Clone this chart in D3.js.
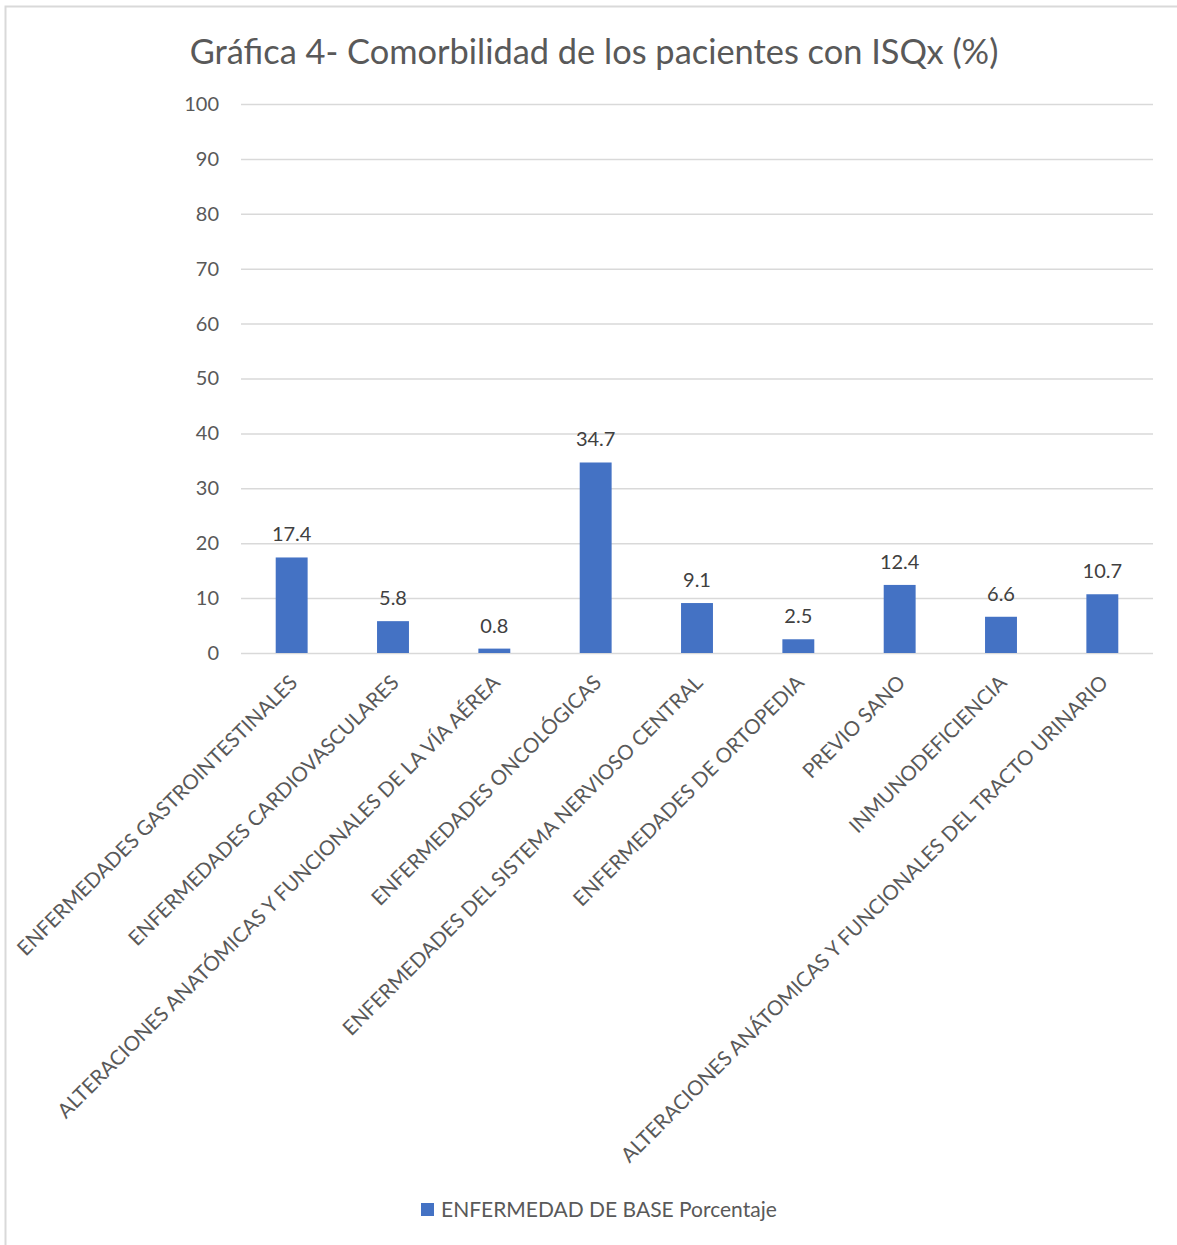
<!DOCTYPE html>
<html>
<head>
<meta charset="utf-8">
<script src="https://cdn.jsdelivr.net/npm/d3@7"></script>
<style>
  body { margin: 0; background: #fff; }
  svg { display: block; font-family: Lato, "Open Sans", sans-serif; }
</style>
</head>
<body>
<script>
// ==== chart data ====
var categories = [
  "ENFERMEDADES GASTROINTESTINALES",
  "ENFERMEDADES CARDIOVASCULARES",
  "ALTERACIONES ANATÓMICAS Y FUNCIONALES DE LA VÍA AÉREA",
  "ENFERMEDADES ONCOLÓGICAS",
  "ENFERMEDADES DEL SISTEMA NERVIOSO CENTRAL",
  "ENFERMEDADES DE ORTOPEDIA",
  "PREVIO SANO",
  "INMUNODEFICIENCIA",
  "ALTERACIONES ANÁTOMICAS Y FUNCIONALES DEL TRACTO URINARIO"
];
var values = [17.4, 5.8, 0.8, 34.7, 9.1, 2.5, 12.4, 6.6, 10.7];
var yTicks = [0, 10, 20, 30, 40, 50, 60, 70, 80, 90, 100];
var title = "Gráfica 4- Comorbilidad de los pacientes con ISQx (%)";
var seriesName = "ENFERMEDAD DE BASE Porcentaje";

var W = 1177, H = 1245;
var textColor = "#595959", gridColor = "#d9d9d9", barColor = "#4472c4";
var plot = { left: 241, right: 1153, top: 104, bottom: 653 };

var svg = d3.select("body").append("svg")
    .attr("width", W)
    .attr("height", H);

// chart border (only top and left edges visible in frame)
svg.append("rect")
    .attr("x", 5.5).attr("y", 6.5)
    .attr("width", W + 10).attr("height", H + 10)
    .attr("fill", "none")
    .attr("stroke", gridColor)
    .attr("stroke-width", 2);

// title
svg.append("text")
    .attr("x", 594).attr("y", 64)
    .attr("text-anchor", "middle")
    .attr("fill", textColor)
    .style("font-size", "34.4px")
    .text(title);

var x = d3.scaleBand()
    .domain(categories)
    .range([plot.left, plot.right])
    .paddingInner(0.685)
    .paddingOuter(0.3425);

var y = d3.scaleLinear()
    .domain([0, 100])
    .range([plot.bottom, plot.top]);

// y axis + gridlines
var yAxis = svg.append("g")
    .attr("transform", "translate(" + plot.left + ",0)")
    .call(d3.axisLeft(y)
      .tickValues(yTicks)
      .tickSize(-(plot.right - plot.left))
      .tickPadding(22)
      .tickFormat(d3.format("d")));

yAxis.select(".domain").remove();
yAxis.selectAll(".tick line")
    .attr("stroke", gridColor)
    .attr("stroke-width", 1.5);
yAxis.selectAll(".tick text")
    .attr("fill", textColor)
    .style("font-size", "20px")
    .style("font-family", "Lato, sans-serif");

// bars
svg.selectAll(".bar")
    .data(values)
  .enter().append("rect")
    .attr("class", "bar")
    .attr("x", function(d, i) { return x(categories[i]); })
    .attr("y", function(d) { return y(d); })
    .attr("width", x.bandwidth())
    .attr("height", function(d) { return y(0) - y(d); })
    .attr("fill", barColor);

// value labels
svg.selectAll(".val")
    .data(values)
  .enter().append("text")
    .attr("class", "val")
    .attr("x", function(d, i) { return x(categories[i]) + x.bandwidth() / 2; })
    .attr("y", function(d) { return y(d) - 16; })
    .attr("text-anchor", "middle")
    .attr("fill", "#404040")
    .style("font-size", "20px")
    .text(function(d) { return d.toFixed(1); });

// category labels, rotated 45 degrees
svg.selectAll(".cat")
    .data(categories)
  .enter().append("text")
    .attr("class", "cat")
    .attr("transform", function(d) {
      var cx = x(d) + x.bandwidth() / 2 + 7;
      return "translate(" + cx + "," + (plot.bottom + 31) + ") rotate(-45)";
    })
    .attr("text-anchor", "end")
    .attr("fill", textColor)
    .style("font-size", "20.5px")
    .text(function(d) { return d; });

// legend
var legend = svg.append("g").attr("transform", "translate(421,1203)");
legend.append("rect")
    .attr("width", 13).attr("height", 13)
    .attr("fill", barColor);
legend.append("text")
    .attr("x", 20).attr("y", 14)
    .attr("fill", textColor)
    .style("font-size", "21px")
    .text(seriesName);
</script>
</body>
</html>
